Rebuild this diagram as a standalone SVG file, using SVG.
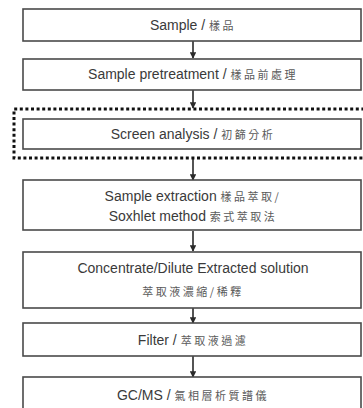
<svg xmlns="http://www.w3.org/2000/svg" width="363" height="408" viewBox="0 0 363 408">
<style>
.box{fill:#fff;stroke:#4a4a4a;stroke-width:1.6}
.t{font-family:"Liberation Sans",Arial,sans-serif;font-size:14px;fill:#3a3a3a;text-anchor:middle}
.c{font-family:"Noto Sans CJK TC","Noto Sans CJK SC",serif;font-size:11px;fill:#5a5a5a;letter-spacing:2.5px}
.conn{stroke:#2a2a2a;stroke-width:1.6;fill:none}
.dot{fill:none;stroke:#111;stroke-width:3;stroke-dasharray:3 2.6}
</style>
<defs>
<marker id="ah" viewBox="0 0 10 10" refX="9" refY="5" markerWidth="4" markerHeight="4" orient="auto" markerUnits="strokeWidth">
<path d="M0,0 L10,5 L0,10 z" fill="#2a2a2a"/>
</marker>
</defs>
<rect width="363" height="408" fill="#fff"/>
<g id="connectors">
<line class="conn" x1="193" y1="41" x2="193" y2="58" marker-end="url(#ah)"/>
<line class="conn" x1="193" y1="90" x2="193" y2="108" marker-end="url(#ah)"/>
<line class="conn" x1="193" y1="159" x2="193" y2="180" marker-end="url(#ah)"/>
<line class="conn" x1="193" y1="231" x2="193" y2="251" marker-end="url(#ah)"/>
<line class="conn" x1="193" y1="308" x2="193" y2="323" marker-end="url(#ah)"/>
<line class="conn" x1="193" y1="356" x2="193" y2="377" marker-end="url(#ah)"/>
</g>
<g id="screen-group">
<path class="dot" d="M370,109 H14 V158 H370"/>
</g>
<g id="n1">
<rect class="box" x="23" y="9" width="338" height="32"/>
<text class="t" x="193" y="30">Sample / <tspan class="c">樣品</tspan></text>
</g>
<g id="n2">
<rect class="box" x="23" y="59" width="338" height="31"/>
<text class="t" x="193" y="79">Sample pretreatment / <tspan class="c">樣品前處理</tspan></text>
</g>
<g id="n3">
<rect class="box" x="23" y="119" width="338" height="30"/>
<text class="t" x="193" y="139">Screen analysis / <tspan class="c">初篩分析</tspan></text>
</g>
<g id="n4">
<rect class="box" x="23" y="180" width="338" height="50"/>
<text class="t" x="193" y="201">Sample extraction <tspan class="c">樣品萃取/</tspan></text>
<text class="t" x="193" y="221">Soxhlet method <tspan class="c">索式萃取法</tspan></text>
</g>
<g id="n5">
<rect class="box" x="23" y="252" width="338" height="56"/>
<text class="t" x="193" y="273">Concentrate/Dilute Extracted solution</text>
<text class="t c" x="193" y="296">萃取液濃縮/稀釋</text>
</g>
<g id="n6">
<rect class="box" x="23" y="323" width="338" height="33"/>
<text class="t" x="193" y="345">Filter / <tspan class="c">萃取液過濾</tspan></text>
</g>
<g id="n7">
<rect class="box" x="23" y="377" width="338" height="34"/>
<text class="t" x="193" y="400">GC/MS / <tspan class="c">氣相層析質譜儀</tspan></text>
</g>
</svg>
